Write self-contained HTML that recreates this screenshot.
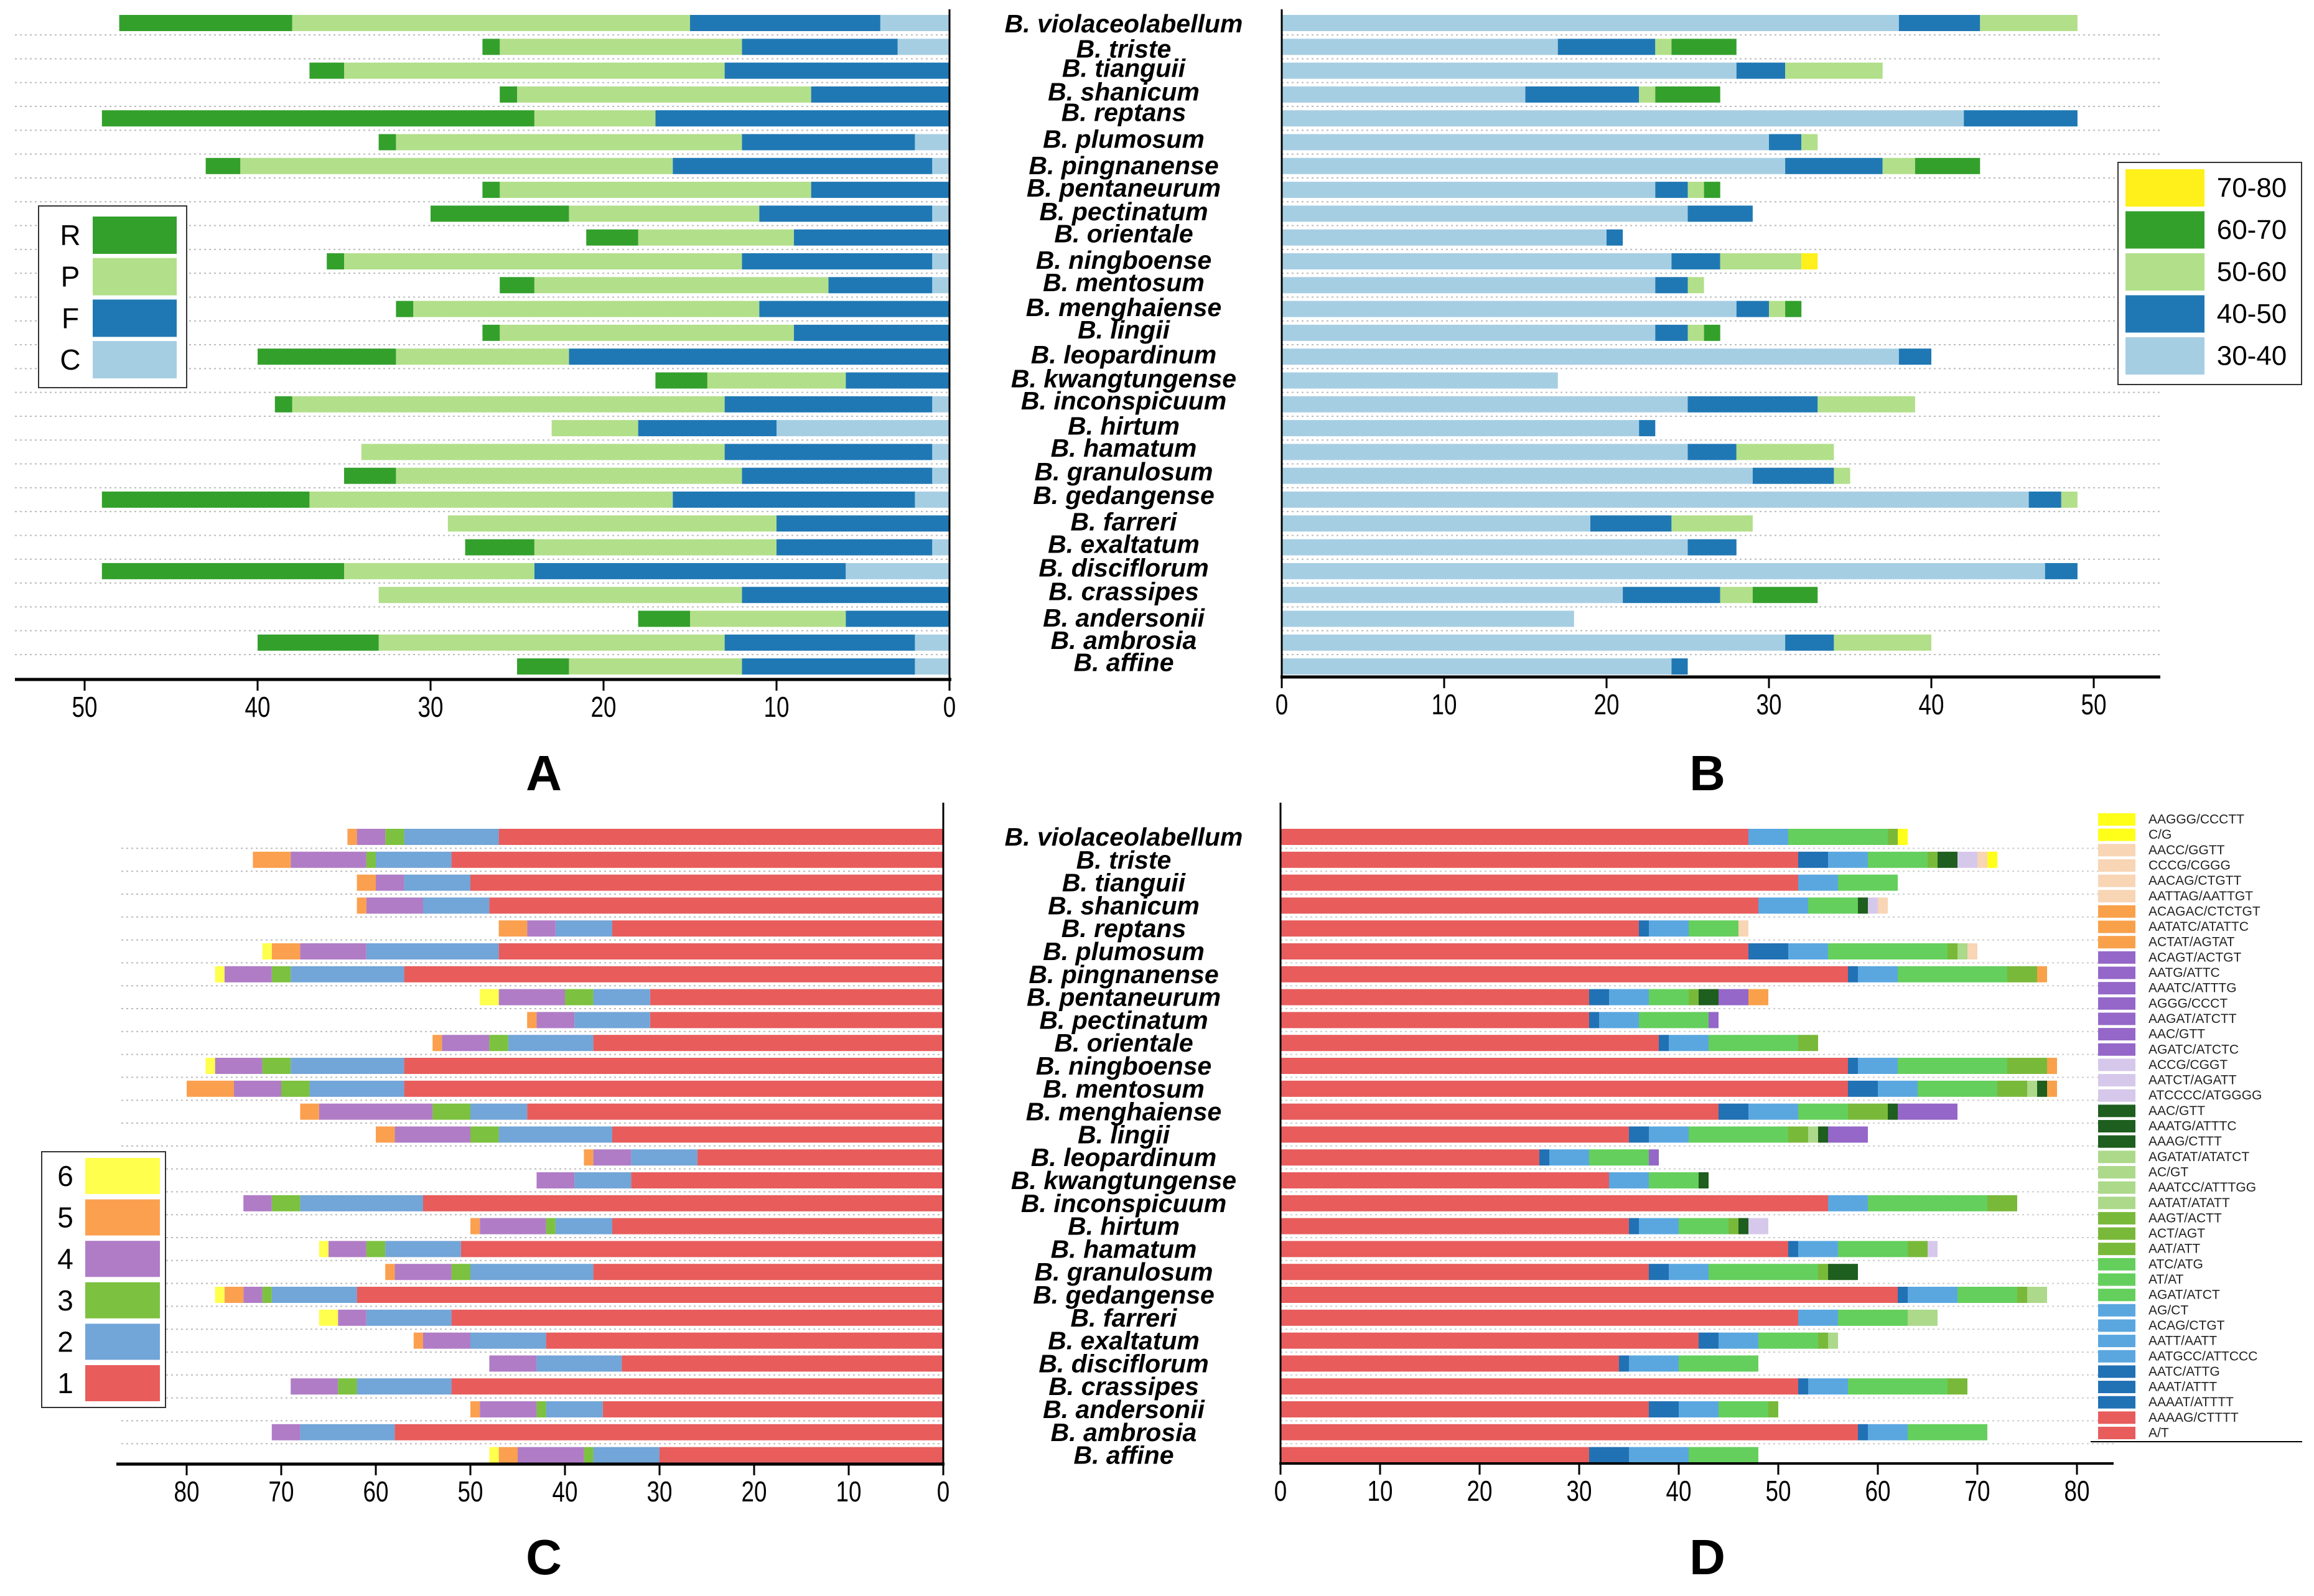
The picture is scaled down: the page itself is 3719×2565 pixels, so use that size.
<!DOCTYPE html>
<html><head><meta charset="utf-8"><style>
html,body{margin:0;padding:0;background:#fff}
svg{display:block;font-family:"Liberation Sans",sans-serif}
</style></head><body>
<svg id="chart" xmlns="http://www.w3.org/2000/svg" width="3719" height="2565" viewBox="0 0 3719 2565">
<rect width="3719" height="2565" fill="#fff"/>
</svg>
<script>
const species=["violaceolabellum","triste","tianguii","shanicum","reptans","plumosum","pingnanense","pentaneurum","pectinatum","orientale","ningboense","mentosum","menghaiense","lingii","leopardinum","kwangtungense","inconspicuum","hirtum","hamatum","granulosum","gedangense","farreri","exaltatum","disciflorum","crassipes","andersonii","ambrosia","affine"];
// Panel A (C, F, P, R)
const aC=[4,3,0,0,0,2,1,0,1,0,1,1,0,0,0,0,1,10,1,1,2,0,1,6,0,0,2,2];
const aF=[11,9,13,8,17,10,15,8,10,9,11,6,11,9,22,6,12,8,12,11,14,10,9,18,12,6,11,10];
const aP=[23,14,22,17,7,20,25,18,11,9,23,17,20,17,10,8,25,5,21,20,21,19,14,11,21,9,20,10];
const aR=[10,1,2,1,25,1,2,1,8,3,1,2,1,1,8,3,1,0,0,3,12,0,4,14,0,3,7,3];
// Panel B (30-40 ... 70-80)
const b30=[38,17,28,15,42,30,31,23,25,20,24,23,28,23,38,17,25,22,25,29,46,19,25,47,21,18,31,24];
const b40=[5,6,3,7,7,2,6,2,4,1,3,2,2,2,2,0,8,1,3,5,2,5,3,2,6,0,3,1];
const b50=[6,1,6,1,0,1,2,1,0,0,5,1,1,1,0,0,6,0,6,1,1,5,0,0,2,0,6,0];
const b60=[0,4,0,4,0,0,4,1,0,0,0,0,1,1,0,0,0,0,0,0,0,0,0,0,4,0,0,0];
const b70=[0,0,0,0,0,0,0,0,0,0,1,0,0,0,0,0,0,0,0,0,0,0,0,0,0,0,0,0];
// Panel C (repeat unit length 1..6)
const c1=[47,52,50,48,35,47,57,31,31,37,57,57,44,35,26,33,55,35,51,37,62,52,42,34,52,36,58,30];
const c2=[10,8,7,7,6,14,12,6,8,9,12,10,6,12,7,6,13,6,8,13,9,9,8,9,10,6,10,7];
const c3=[2,1,0,0,0,0,2,3,0,2,3,3,4,3,0,0,3,1,2,2,1,0,0,0,2,1,0,1];
const c4=[3,8,3,6,3,7,5,7,4,5,5,5,12,8,4,4,3,7,4,6,2,3,5,5,5,6,3,7];
const c5=[1,4,2,1,3,3,0,0,1,1,0,5,2,2,1,0,0,1,0,1,2,0,1,0,0,1,0,2];
const c6=[0,0,0,0,0,1,1,2,0,0,1,0,0,0,0,0,0,0,1,0,1,2,0,0,0,0,0,1];
// Panel D motif groups and segment values
const dGroups=["red","dblue","lblue","green","mgreen","lgreen","dgreen","lav","purple","orange","peach","yellow"];
const dCol={red:"#e85c5c",dblue:"#2171b5",lblue:"#5aa7e0",green:"#64cf5c",mgreen:"#79b93a",lgreen:"#acd98a",dgreen:"#1e5e1e",lav:"#d6c8ea",purple:"#9467c8",orange:"#f9a14a",peach:"#f8d5b4",yellow:"#ffff1a"};
const dSegs=[
[["red",47],["lblue",4],["green",10],["mgreen",1],["yellow",1]],
[["red",52],["dblue",3],["lblue",4],["green",6],["mgreen",1],["dgreen",2],["lav",2],["peach",1],["yellow",1]],
[["red",52],["lblue",4],["green",6]],
[["red",48],["lblue",5],["green",5],["dgreen",1],["lav",1],["peach",1]],
[["red",36],["dblue",1],["lblue",4],["green",5],["peach",1]],
[["red",47],["dblue",4],["lblue",4],["green",12],["mgreen",1],["lgreen",1],["peach",1]],
[["red",57],["dblue",1],["lblue",4],["green",11],["mgreen",3],["orange",1]],
[["red",31],["dblue",2],["lblue",4],["green",4],["mgreen",1],["dgreen",2],["purple",3],["orange",2]],
[["red",31],["dblue",1],["lblue",4],["green",7],["purple",1]],
[["red",38],["dblue",1],["lblue",4],["green",9],["mgreen",2]],
[["red",57],["dblue",1],["lblue",4],["green",11],["mgreen",4],["orange",1]],
[["red",57],["dblue",3],["lblue",4],["green",8],["mgreen",3],["lgreen",1],["dgreen",1],["orange",1]],
[["red",44],["dblue",3],["lblue",5],["green",5],["mgreen",4],["dgreen",1],["purple",6]],
[["red",35],["dblue",2],["lblue",4],["green",10],["mgreen",2],["lgreen",1],["dgreen",1],["purple",4]],
[["red",26],["dblue",1],["lblue",4],["green",6],["purple",1]],
[["red",33],["lblue",4],["green",5],["dgreen",1]],
[["red",55],["lblue",4],["green",12],["mgreen",3]],
[["red",35],["dblue",1],["lblue",4],["green",5],["mgreen",1],["dgreen",1],["lav",2]],
[["red",51],["dblue",1],["lblue",4],["green",7],["mgreen",2],["lav",1]],
[["red",37],["dblue",2],["lblue",4],["green",11],["mgreen",1],["dgreen",3]],
[["red",62],["dblue",1],["lblue",5],["green",6],["mgreen",1],["lgreen",2]],
[["red",52],["lblue",4],["green",7],["lgreen",3]],
[["red",42],["dblue",2],["lblue",4],["green",6],["mgreen",1],["lgreen",1]],
[["red",34],["dblue",1],["lblue",5],["green",8]],
[["red",52],["dblue",1],["lblue",4],["green",10],["mgreen",2]],
[["red",37],["dblue",3],["lblue",4],["green",5],["mgreen",1]],
[["red",58],["dblue",1],["lblue",4],["green",8]],
[["red",31],["dblue",4],["lblue",6],["green",7]]
];
const dLegend=["AAGGG/CCCTT","C/G","AACC/GGTT","CCCG/CGGG","AACAG/CTGTT","AATTAG/AATTGT","ACAGAC/CTCTGT","AATATC/ATATTC","ACTAT/AGTAT","ACAGT/ACTGT","AATG/ATTC","AAATC/ATTTG","AGGG/CCCT","AAGAT/ATCTT","AAC/GTT","AGATC/ATCTC","ACCG/CGGT","AATCT/AGATT","ATCCCC/ATGGGG","AAC/GTT","AAATG/ATTTC","AAAG/CTTT","AGATAT/ATATCT","AC/GT","AAATCC/ATTTGG","AATAT/ATATT","AAGT/ACTT","ACT/AGT","AAT/ATT","ATC/ATG","AT/AT","AGAT/ATCT","AG/CT","ACAG/CTGT","AATT/AATT","AATGCC/ATTCCC","AATC/ATTG","AAAT/ATTT","AAAAT/ATTTT","AAAAG/CTTTT","A/T"];
const dLegendGroup=["yellow","yellow","peach","peach","peach","peach","orange","orange","orange","purple","purple","purple","purple","purple","purple","purple","lav","lav","lav","dgreen","dgreen","dgreen","lgreen","lgreen","lgreen","lgreen","mgreen","mgreen","mgreen","green","green","green","lblue","lblue","lblue","lblue","dblue","dblue","dblue","red","red"];
const topLabelY=[16,33,46,62,76,94,112,127,143,158,176,191,208,223,240,256,271,288,303,319,335,353,368,384,400,418,433,448];
const ticksA=[0,10,20,30,40,50], ticksC=[0,10,20,30,40,50,60,70,80];

const svg=document.getElementById('chart');
const NS="http://www.w3.org/2000/svg";
function mk(tag,attrs,parent){const e=document.createElementNS(NS,tag);for(const k in attrs)e.setAttribute(k,attrs[k]);(parent||svg).appendChild(e);return e;}

const xA=v=>1526-27.8*v, xB=v=>2060+26.1*v, xC=v=>1516-15.2*v, xD=v=>2058+16.0*v;
const yTop=i=>37+i*38.3, yBot=i=>1345+i*36.8;
const colA={C:"#a6cee3",F:"#1f78b4",P:"#b2df8a",R:"#33a02c"};
const colB=["#a6cee3","#1f78b4","#b2df8a","#33a02c","#ffef1a"];
const colC=["#e85c5c","#72a5d8","#7cc13f","#b07cc6","#fba04f","#ffff4d"];

for(let i=0;i<27;i++){
  const ya=(yTop(i)+yTop(i+1))/2, yc=(yBot(i)+yBot(i+1))/2;
  let g=mk('line',{x1:24,x2:1526,y1:ya,y2:ya,stroke:"#bbb","stroke-width":2,"stroke-dasharray":"3,5"});
  
  g=mk('line',{x1:2060,x2:3472,y1:ya,y2:ya,stroke:"#bbb","stroke-width":2,"stroke-dasharray":"3,5"});
  
  g=mk('line',{x1:195,x2:1516,y1:yc,y2:yc,stroke:"#bbb","stroke-width":2,"stroke-dasharray":"3,5"});
  
  g=mk('line',{x1:2058,x2:3400,y1:yc,y2:yc,stroke:"#ccc","stroke-width":2,"stroke-dasharray":"3,5"});
  
}
const BH=26;
function bar(x0,x1,yc,fill,name){
  const r=mk('rect',{x:Math.min(x0,x1),y:yc-BH/2,width:Math.abs(x1-x0),height:BH,fill:fill});
  
  
}
species.forEach((s,i)=>{
  let cum=0; const yc=yTop(i);
  [["C",aC[i]],["F",aF[i]],["P",aP[i]],["R",aR[i]]].forEach(([k,v])=>{if(v>0)bar(xA(cum),xA(cum+v),yc,colA[k],'bar-a-'+k);cum+=v;});
  cum=0;
  [b30[i],b40[i],b50[i],b60[i],b70[i]].forEach((v,j)=>{if(v>0)bar(xB(cum),xB(cum+v),yc,colB[j],'bar-b');cum+=v;});
  cum=0; const yb=yBot(i);
  [c1[i],c2[i],c3[i],c4[i],c5[i],c6[i]].forEach((v,j)=>{if(v>0)bar(xC(cum),xC(cum+v),yb,colC[j],'bar-c');cum+=v;});
  cum=0;
  dSegs[i].forEach(([g,v])=>{bar(xD(cum),xD(cum+v),yb,dCol[g],'bar-d');cum+=v;});
  let t=mk('text',{x:1806,y:topLabelY[i]*2.376,"text-anchor":"middle","dominant-baseline":"central","font-size":41,"font-weight":"bold","font-style":"italic",fill:"#000"});
  t.textContent="B. "+s;
  
  t=mk('text',{x:1806,y:yb,"text-anchor":"middle","dominant-baseline":"central","font-size":41,"font-weight":"bold","font-style":"italic",fill:"#000"});
  t.textContent="B. "+s;
  
});
function ln(x1,y1,x2,y2,w,name){const l=mk('line',{x1,y1,x2,y2,stroke:"#000","stroke-width":w});}
ln(24,1092,1529,1092,5,'x-axis-a'); ln(1526,15,1526,1094,3,'y-axis-a');
ln(2058,1088,3472,1088,5,'x-axis-b'); ln(2060,15,2060,1090,3,'y-axis-b');
ln(187,2353,1518,2353,5,'x-axis-c'); ln(1516,1290,1516,2355,3,'y-axis-c');
ln(2056,2352,3397,2352,4,'x-axis-d'); ln(2058,1290,2058,2354,3,'y-axis-d');
function tick(x,y,lab,name){ln(x,y,x,y+18,3,name+'-tick');
  const t=mk('text',{x:x/0.8,y:y+60,"text-anchor":"middle","font-size":46,fill:"#000",transform:"scale(0.8,1)"});
  t.textContent=lab;}
ticksA.forEach(v=>{tick(xA(v),1092,v,'x-tick-a');tick(xB(v),1088,v,'x-tick-b');});
ticksC.forEach(v=>{tick(xC(v),2353,v,'x-tick-c');tick(xD(v),2352,v,'x-tick-d');});
[["A",874,1270],["B",2744,1270],["C",874,2530],["D",2744,2530]].forEach(([l,x,y])=>{const t=mk('text',{x,y,"text-anchor":"middle","font-size":80,"font-weight":"bold",fill:"#000"});t.textContent=l;});
let lg=mk('rect',{x:62,y:331,width:238,height:292,fill:"#fff",stroke:"#333","stroke-width":2});

["R","P","F","C"].forEach((k,j)=>{const y=378+j*66.7;
  const r=mk('rect',{x:149,y:y-30,width:135,height:60,fill:colA[k]});
  const t=mk('text',{x:113,y:y,"text-anchor":"middle","dominant-baseline":"central","font-size":46,fill:"#000"});t.textContent=k;});
lg=mk('rect',{x:3404,y:261,width:295,height:357,fill:"#fff",stroke:"#333","stroke-width":2});

["70-80","60-70","50-60","40-50","30-40"].forEach((k,j)=>{const y=302+j*67.5;
  const r=mk('rect',{x:3416,y:y-30,width:127,height:60,fill:colB[4-j]});
  const t=mk('text',{x:3619,y:y,"text-anchor":"middle","dominant-baseline":"central","font-size":44,fill:"#000"});t.textContent=k;});
lg=mk('rect',{x:67,y:1851,width:199,height:411,fill:"#fff",stroke:"#333","stroke-width":2});

for(let j=0;j<6;j++){const y=1890+j*66.6;
  const r=mk('rect',{x:137,y:y-29,width:120,height:58,fill:colC[5-j]});
  const t=mk('text',{x:105,y:y,"text-anchor":"middle","dominant-baseline":"central","font-size":46,fill:"#000"});t.textContent=String(6-j);}
dLegend.forEach((k,j)=>{const y=1317+j*24.65;
  const r=mk('rect',{x:3372,y:y-10,width:60,height:20,fill:dCol[dLegendGroup[j]]});
  const t=mk('text',{x:3453,y:y,"dominant-baseline":"central","font-size":21,fill:"#222"});t.textContent=k;});
ln(3360,2317,3700,2317,2,'legend-d-baseline');
</script>
</body></html>
